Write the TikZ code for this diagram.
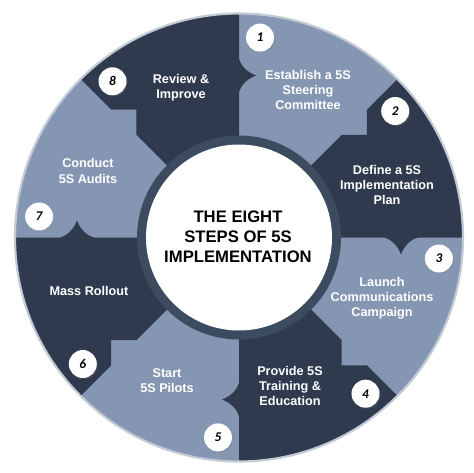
\documentclass[tikz,border=0pt]{standalone}
\usepackage{fontspec}
\setmainfont{Liberation Sans}
\newfontfamily\numfont{Carlito}
\usetikzlibrary{calc,shadows}
\definecolor{darkseg}{HTML}{2F3A4F}
\definecolor{lightseg}{HTML}{8496B1}
\definecolor{ringcol}{HTML}{3C4B5F}
\definecolor{rimcol}{HTML}{C3CAD4}
\begin{document}
\begin{tikzpicture}[x=0.75pt,y=0.75pt,
  seglabel/.style={text=white,font=\bfseries\fontsize{9.5}{11.3}\selectfont,align=center,inner sep=0},
  title/.style={text=black,font=\bfseries\fontsize{12.5}{15}\selectfont,align=center,inner sep=0},
  badge/.style={circle,fill=white,minimum size=21pt,inner sep=0,
     font=\numfont\bfseries\itshape\fontsize{10}{10}\selectfont,
     circular drop shadow={shadow xshift=0.6pt,shadow yshift=-0.6pt,opacity=0.35,shadow scale=1.04}}]
\useasboundingbox (0,0) rectangle (474,472);
\fill[white] (0,0) rectangle (474,472);
\begin{scope}[shift={(239,234.5)}]
  \fill[lightseg] (0,0) circle (224);
  \foreach \a in {90,0,-90,180}{
    \pgfmathsetmacro{\b}{\a+45}
    \fill[darkseg] (0,0) -- (\a:145)
      .. controls ($(\a:153)+(\a-90:2)$) and ($(\a:159)+(\a-90:9)$) .. ($(\a:162)+(\a-90:17)$)
      .. controls ($(\a:165)+(\a-90:9)$) and ($(\a:171)+(\a-90:2)$) .. (\a:179)
      -- (\a:224) arc[start angle=\a, end angle=\b, radius=224]
      -- (\b:181) -- ($(\b:163)+(\b-90:18)$) -- (\b:145) -- cycle;
  }
  \draw[rimcol,line width=1.6pt] (0,0) circle (224);
  \fill[ringcol] (0,0) circle (102);
  \fill[white] (0,0) circle (93);
  \node[badge] (b1) at (84:201) {1};
  \node[badge] (b2) at (39:201) {2};
  \node[badge] (b3) at (-6:201) {3};
  \node[badge] (b4) at (-51:201) {4};
  \node[badge] (b5) at (-96:201) {5};
  \node[badge] (b6) at (-141:201) {6};
  \node[badge] (b7) at (174:201) {7};
  \node[badge] (b8) at (129:201) {8};
\end{scope}
\node[title] (center) at (238,235) {THE EIGHT\\STEPS OF 5S\\IMPLEMENTATION};
\node[seglabel] (s1) at (308,382) {Establish a 5S\\Steering\\Committee};
\node[seglabel] (s2) at (387,287) {Define a 5S\\Implementation\\Plan};
\node[seglabel] (s3) at (382,174) {Launch\\Communications\\Campaign};
\node[seglabel] (s4) at (290,86) {Provide 5S\\Training \&\\Education};
\node[seglabel] (s5) at (167,91) {Start\\5S Pilots};
\node[seglabel] (s6) at (89,181) {Mass Rollout};
\node[seglabel] (s7) at (88,301) {Conduct\\5S Audits};
\node[seglabel] (s8) at (181,384) {Review \&\\Improve};
\end{tikzpicture}
\end{document}
